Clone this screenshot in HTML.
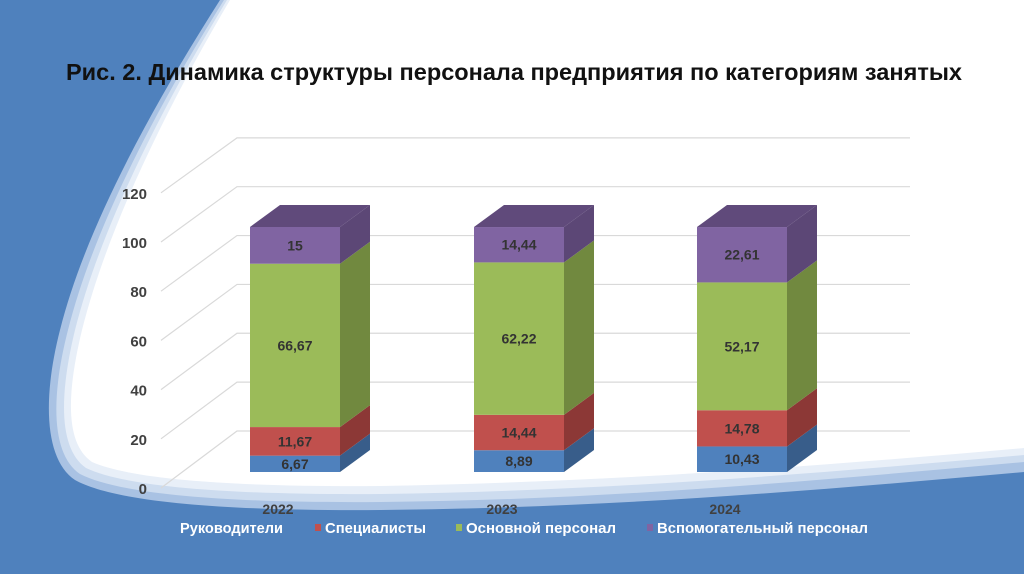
<!DOCTYPE html>
<html><head><meta charset="utf-8"><style>
body{margin:0;width:1024px;height:574px;overflow:hidden;background:#4f81bd;font-family:"Liberation Sans",sans-serif}
svg{position:absolute;left:0;top:0}
</style></head><body>
<svg width="1024" height="574">
<rect width="1024" height="574" fill="#4f81bd"/>
<path d="M220,0 L1024,0 L1024,472 C800,492 600,508 380,510 C250,511 120,505 75,480 C45,460 42,400 60,330 C85,230 150,110 220,0Z" fill="#a9c2e3"/>
<path d="M224,0 L1024,0 L1024,462 C800,482 600,500 380,502 C250,503 125,497 80,474 C52,455 50,400 68,330 C93,230 155,110 224,0Z" fill="#cddcef"/>
<path d="M227,0 L1024,0 L1024,455 C800,475 600,491 380,494 C250,495 130,489 86,468 C60,450 58,400 75,330 C100,230 160,110 227,0Z" fill="#e8eff8"/>
<path d="M230,0 L1024,0 L1024,448 C800,468 600,482 380,486 C250,487 135,481 92,462 C67,445 65,400 82,330 C107,230 165,110 230,0Z" fill="#ffffff"/>
<text x="514" y="80" text-anchor="middle" font-size="23" font-weight="bold" fill="#111" textLength="896" lengthAdjust="spacingAndGlyphs">Рис. 2. Динамика структуры персонала предприятия по категориям занятых</text>
<g id="grid"></g>
<g id="bars"></g>
<g id="legend"></g>
</svg>
<script>
const categories=["2022","2023","2024"];
const seriesNames=["Руководители","Специалисты","Основной персонал","Вспомогательный персонал"];
const s1=[6.67,8.89,10.43];
const s2=[11.67,14.44,14.78];
const s3=[66.67,62.22,52.17];
const s4=[15,14.44,22.61];
const ticks=[0,20,40,60,80,100,120];
const NS="http://www.w3.org/2000/svg";
function mk(t,a,p){const e=document.createElementNS(NS,t);for(const k in a)e.setAttribute(k,a[k]);p.appendChild(e);return e;}
const grid=document.getElementById('grid'),bars=document.getElementById('bars'),leg=document.getElementById('legend');
const yFront=v=>488-v*2.46, yBack=v=>431-v*2.443;
ticks.forEach(t=>{
 let l=mk('polyline',{points:`161,${yFront(t)} 237,${yBack(t)} 910,${yBack(t)}`,fill:'none',stroke:'#d9d9d9','stroke-width':1.2},grid);
 
 let tx=mk('text',{x:147,y:yFront(t)+6,'text-anchor':'end','font-size':15,'font-weight':'bold',fill:'#404040'},grid);
 tx.textContent=t;
});
const front=["#4f81bd","#c0504d","#9bbb59","#8064a2"],side=["#385d8a","#8c3836","#71893f","#5c4776"],top_=["#4a76ac","#a34441","#86a34b","#604a7b"];
const series=[s1,s2,s3,s4];
const xs=[250,474,697],W=90,DX=30,DY=22,base=472,sc=2.45;
categories.forEach((c,i)=>{
 let acc=0;const x=xs[i];
 series.forEach((s,k)=>{
  const v=s[i];const yb=base-acc*sc,yt=base-(acc+v)*sc;acc+=v;
  let f=mk('rect',{x:x,y:yt,width:W,height:yb-yt,fill:front[k]},bars);
  
  let sd=mk('polygon',{points:`${x+W},${yt} ${x+W+DX},${yt-DY} ${x+W+DX},${yb-DY} ${x+W},${yb}`,fill:side[k]},bars);
  
  if(k===3){let tp=mk('polygon',{points:`${x},${yt} ${x+DX},${yt-DY} ${x+W+DX},${yt-DY} ${x+W},${yt}`,fill:top_[k]},bars);
   }
  let lb=mk('text',{x:x+W/2,y:(yt+yb)/2+5,'text-anchor':'middle','font-size':14,'font-weight':'bold',fill:'#333'},bars);
  lb.textContent=String(v).replace('.',',');
 });
 let ct=mk('text',{x:x+W/2-17,y:514,'text-anchor':'middle','font-size':14,'font-weight':'bold',fill:'#404040'},bars);
 ct.textContent=c;
});
const lx=[180,325,466,657];
const lw=[103,101,150,211];
seriesNames.forEach((n,k)=>{
 let r=mk('rect',{x:lx[k]-10,y:524,width:6,height:7,fill:front[k]},leg);
 
 let t=mk('text',{x:lx[k],y:533,'font-size':15,'font-weight':'bold',fill:'#fff',textLength:lw[k],lengthAdjust:'spacingAndGlyphs'},leg);
 t.textContent=n;
});
</script>
</body></html>
